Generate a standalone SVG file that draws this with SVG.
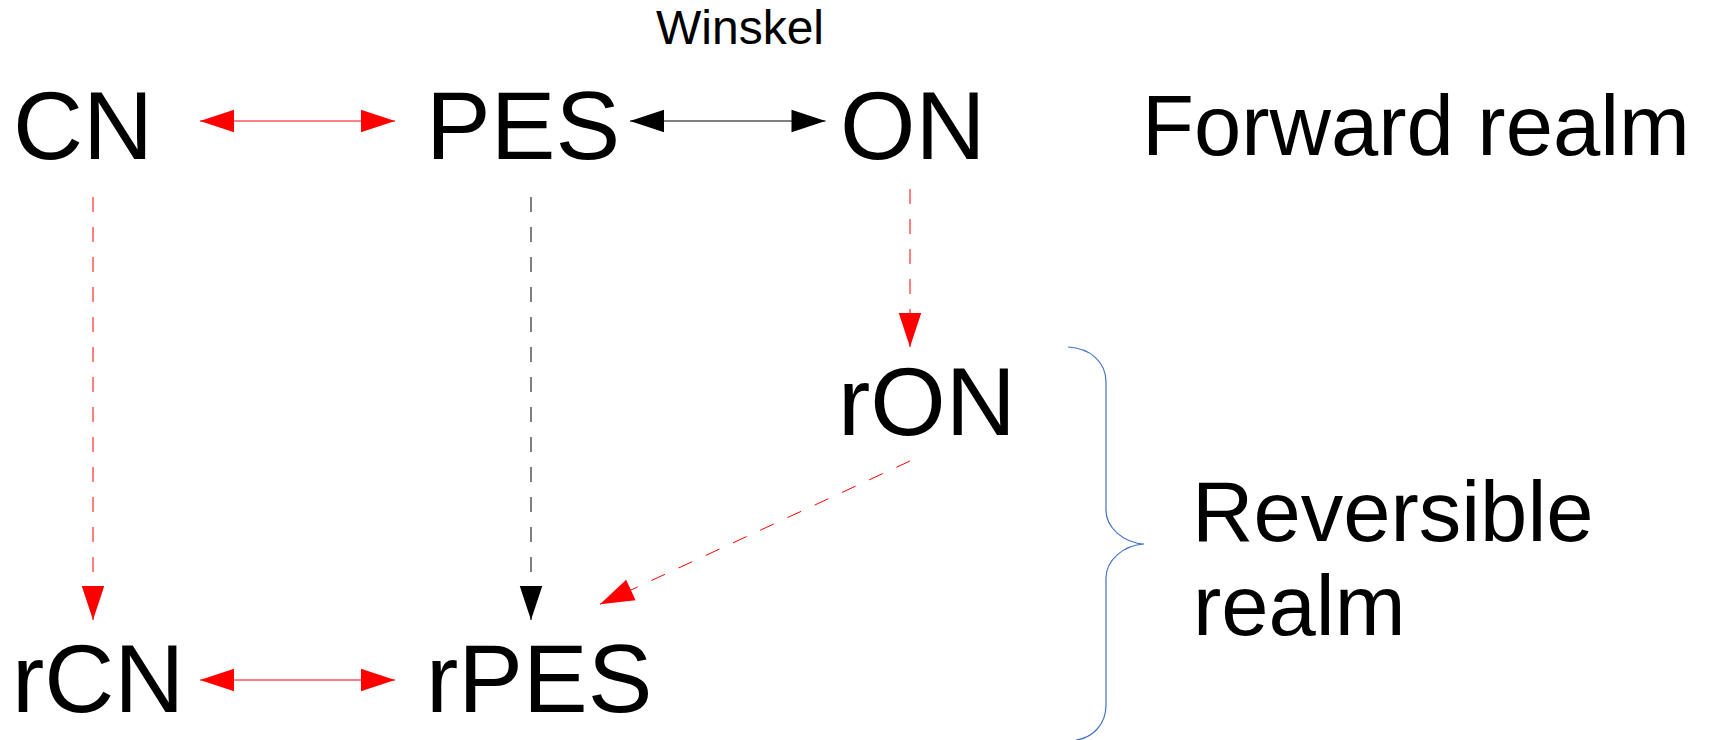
<svg xmlns="http://www.w3.org/2000/svg" width="1709" height="740" viewBox="0 0 1709 740">
  <style>
    .node { font-family: "Liberation Sans", Arial, sans-serif; font-size: 97px; fill: #000; }
    .realm { font-family: "Liberation Sans", Arial, sans-serif; font-size: 85px; fill: #000; }
    .label { font-family: "Liberation Sans", Arial, sans-serif; font-size: 48px; fill: #000; }
    .red { stroke: #ff0000; stroke-width: 1; fill: none; }
    .black { stroke: #000; stroke-width: 1; fill: none; }
    .dash { stroke-dasharray: 15 15; }
    .brace { stroke: #4472c4; stroke-width: 1.2; fill: none; }
  </style>
  <defs>
    <marker id="headRed" markerUnits="userSpaceOnUse" markerWidth="34" markerHeight="23" refX="34" refY="11.25" orient="auto-start-reverse" overflow="visible">
      <path d="M0,0 L34,11.25 L0,22.5 Z" fill="#ff0000"/>
    </marker>
    <marker id="headBlack" markerUnits="userSpaceOnUse" markerWidth="34" markerHeight="23" refX="34" refY="11.25" orient="auto-start-reverse" overflow="visible">
      <path d="M0,0 L34,11.25 L0,22.5 Z" fill="#000"/>
    </marker>
  </defs>
  <rect width="1709" height="740" fill="#fff"/>

  <!-- connectors -->
  <g id="connectors">
    <line class="red" x1="200" y1="121" x2="395" y2="121" marker-start="url(#headRed)" marker-end="url(#headRed)"/>
    <line class="black" x1="630" y1="121" x2="825.5" y2="121" marker-start="url(#headBlack)" marker-end="url(#headBlack)"/>
    <line class="red" x1="200" y1="680" x2="395" y2="680" marker-start="url(#headRed)" marker-end="url(#headRed)"/>
    <line class="red dash" x1="93" y1="197" x2="93" y2="620" marker-end="url(#headRed)"/>
    <line class="black dash" x1="531" y1="197" x2="531" y2="620" marker-end="url(#headBlack)"/>
    <line class="red dash" x1="910" y1="189" x2="910" y2="347" marker-end="url(#headRed)"/>
    <line class="red dash" x1="910" y1="461" x2="600" y2="604.3" marker-end="url(#headRed)"/>
  </g>

  <!-- brace grouping the reversible nodes -->
  <g id="brace">
    <path class="brace" d="M1068,347 C1090,348 1106,362 1106,382 L1106,510 C1106,528 1124,543 1144,544 C1124,545 1106,560 1106,578 L1106,705 C1106,725 1092,738 1076,740"/>
  </g>

  <!-- nodes -->
  <g id="node-CN"><text class="node" x="13" y="159">CN</text></g>
  <g id="node-PES"><text class="node" x="426" y="159">PES</text></g>
  <g id="node-ON"><text class="node" x="840" y="159">ON</text></g>
  <g id="node-rON"><text class="node" x="838" y="435">rON</text></g>
  <g id="node-rCN"><text class="node" x="12" y="712">rCN</text></g>
  <g id="node-rPES"><text class="node" x="426" y="712">rPES</text></g>

  <g id="label-winskel"><text class="label" x="656" y="44">Winskel</text></g>
  <g id="label-forward"><text class="realm" x="1142" y="155">Forward realm</text></g>
  <g id="label-reversible">
    <text class="realm" x="1192" y="541">Reversible</text>
    <text class="realm" x="1193" y="635">realm</text>
  </g>
</svg>
